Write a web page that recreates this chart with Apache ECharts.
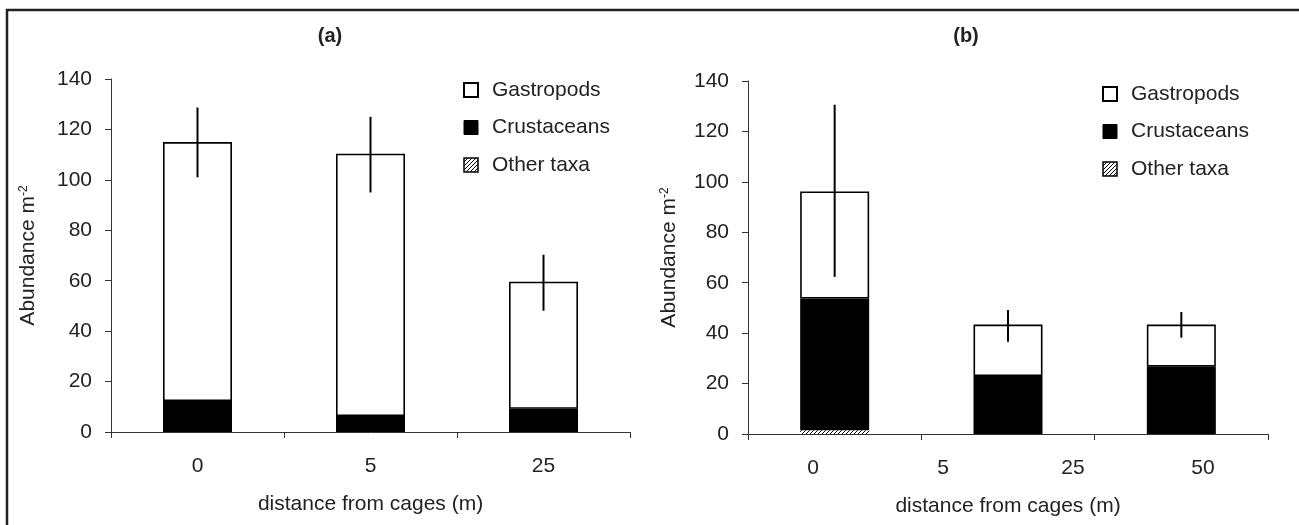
<!DOCTYPE html>
<html><head><meta charset="utf-8">
<script src="https://cdn.jsdelivr.net/npm/echarts@6/dist/echarts.min.js"></script>
<style>html,body{margin:0;padding:0;background:#fff}#c{width:1299px;height:525px}</style>
</head><body><div id="c"></div>
<script>
// ---- data ----
const seriesNames = ['Gastropods', 'Crustaceans', 'Other taxa'];
const titles = ['(a)', '(b)'];
const xAxisTitle = 'distance from cages (m)';

const catsA = ['0', '5', '25'];
const gastroA = [102.7, 104.1, 50.4];
const crustA = [12.3, 6.3, 9.2];
const otherA = [0, 0, 0];
const errLowA = [101, 95, 48.1];
const errHighA = [128.7, 125, 70.3];

const labelsB = ['0', '5', '25', '50'];
const catsB = ['0', '25', '50'];
const gastroB = [42.5, 20.4, 16.7];
const crustB = [52.2, 23.0, 26.7];
const otherB = [1.5, 0, 0];
const errLowB = [62.3, 36.6, 38.2];
const errHighB = [130.6, 49.2, 48.4];

const yMin = 0, yMax = 140, yStep = 20;

// ---- style ----
const FONT = '"Liberation Sans", Arial, sans-serif';
const FS = 21;
const TXT = '#222';
const pc = document.createElement('canvas'); pc.width = 4; pc.height = 4;
const g = pc.getContext('2d');
g.fillStyle = '#fff'; g.fillRect(0, 0, 4, 4);
g.strokeStyle = '#000'; g.lineWidth = 1;
g.beginPath(); g.moveTo(0, 4); g.lineTo(4, 0); g.moveTo(-1, 1); g.lineTo(1, -1); g.moveTo(3, 5); g.lineTo(5, 3); g.stroke();
const hatch = { image: pc, repeat: 'repeat' };

const styles = {
  'Gastropods': { color: '#fff', borderColor: '#000', borderWidth: 1.6 },
  'Crustaceans': { color: '#000', borderColor: '#000', borderWidth: 0 },
  'Other taxa': { color: hatch, borderColor: '#000', borderWidth: 0 }
};

const chart = echarts.init(document.getElementById('c'), null, { renderer: 'canvas' });

function yAxis(gi, gap) {
  return {
    type: 'value', gridIndex: gi, min: yMin, max: yMax, interval: yStep,
    splitLine: { show: false },
    axisLine: { show: true, lineStyle: { color: '#333', width: 1 } },
    axisTick: { show: true, length: 6, lineStyle: { color: '#333' } },
    axisLabel: { color: TXT, fontSize: FS, fontFamily: FONT, margin: 19 },
    name: '{a|Abundance m}{s|-2}', nameLocation: 'middle', nameGap: gap, nameRotate: 90,
    nameTextStyle: { rich: {
      a: { fontSize: FS, fontFamily: FONT, color: TXT },
      s: { fontSize: 12, fontFamily: FONT, color: TXT, verticalAlign: 'top' }
    } }
  };
}
function barAxis(gi, cats, showLabel, name) {
  return {
    type: 'category', gridIndex: gi, data: cats,
    axisLine: { show: true, lineStyle: { color: '#333', width: 1 } },
    axisTick: { show: true, length: 6, lineStyle: { color: '#333' } },
    axisLabel: { show: showLabel, color: TXT, fontSize: FS, fontFamily: FONT, margin: 24 },
    name: name, nameLocation: 'middle', nameGap: 62,
    nameTextStyle: { fontSize: FS, fontFamily: FONT, color: TXT }
  };
}
function bars(xi, yi, stack, vals, name) {
  return {
    type: 'bar', name: name, xAxisIndex: xi, yAxisIndex: yi, stack: stack, data: vals,
    barWidth: 69, itemStyle: styles[name], silent: true
  };
}
function errSeries(xi, yi, low, high) {
  return {
    type: 'custom', xAxisIndex: xi, yAxisIndex: yi, z: 10, silent: true,
    data: low.map((l, i) => [i, l, high[i]]),
    encode: { x: 0, y: [1, 2] },
    renderItem(params, api) {
      const p1 = api.coord([api.value(0), api.value(1)]);
      const p2 = api.coord([api.value(0), api.value(2)]);
      return { type: 'line', shape: { x1: p1[0], y1: p1[1], x2: p2[0], y2: p2[1] },
        style: { stroke: '#000', lineWidth: 2 } };
    }
  };
}
function legend(left, top) {
  return {
    orient: 'vertical', left: left, top: top, itemWidth: 14, itemHeight: 14, itemGap: 16.5,
    icon: 'rect', selectedMode: false,
    textStyle: { fontSize: FS, lineHeight: 21, fontFamily: FONT, color: TXT, padding: [0, 0, 0, 9] },
    data: [
      { name: 'Gastropods', itemStyle: { color: '#fff', borderColor: '#000', borderWidth: 2 } },
      { name: 'Crustaceans', itemStyle: { color: '#000', borderColor: '#000', borderWidth: 1 } },
      { name: 'Other taxa', itemStyle: { color: hatch, borderColor: '#000', borderWidth: 1.5 } }
    ]
  };
}

const option = {
  backgroundColor: '#fff',
  animation: false,
  title: [
    { text: titles[0], left: 325, top: 21, textAlign: 'center', textStyle: { fontSize: 20, fontWeight: 'bold', fontFamily: FONT, color: TXT } },
    { text: titles[1], left: 961, top: 21, textAlign: 'center', textStyle: { fontSize: 20, fontWeight: 'bold', fontFamily: FONT, color: TXT } }
  ],
  legend: [legend(458, 74.5), legend(1097, 78.5)],
  grid: [
    { left: 111, top: 79, width: 519, height: 353 },
    { left: 748, top: 81, width: 520, height: 353 }
  ],
  xAxis: [
    barAxis(0, catsA, true, xAxisTitle),
    barAxis(1, catsB, false, ''),
    {
      type: 'category', gridIndex: 1, data: labelsB, position: 'bottom',
      axisLine: { show: false }, axisTick: { show: false },
      axisLabel: { color: TXT, fontSize: FS, fontFamily: FONT, margin: 24 },
      name: xAxisTitle, nameLocation: 'middle', nameGap: 62,
      nameTextStyle: { fontSize: FS, fontFamily: FONT, color: TXT }
    }
  ],
  yAxis: [yAxis(0, 72), yAxis(1, 68)],
  series: [
    bars(0, 0, 'a', otherA, 'Other taxa'),
    bars(0, 0, 'a', crustA, 'Crustaceans'),
    bars(0, 0, 'a', gastroA, 'Gastropods'),
    errSeries(0, 0, errLowA, errHighA),
    bars(1, 1, 'b', otherB, 'Other taxa'),
    bars(1, 1, 'b', crustB, 'Crustaceans'),
    bars(1, 1, 'b', gastroB, 'Gastropods'),
    errSeries(1, 1, errLowB, errHighB)
  ],
  graphic: [{
    type: 'polyline', silent: true,
    shape: { points: [[7, 525], [7, 10], [1299, 10]] },
    style: { stroke: '#222', lineWidth: 2.5, fill: null }
  }]
};
chart.setOption(option);
</script>
</body></html>
